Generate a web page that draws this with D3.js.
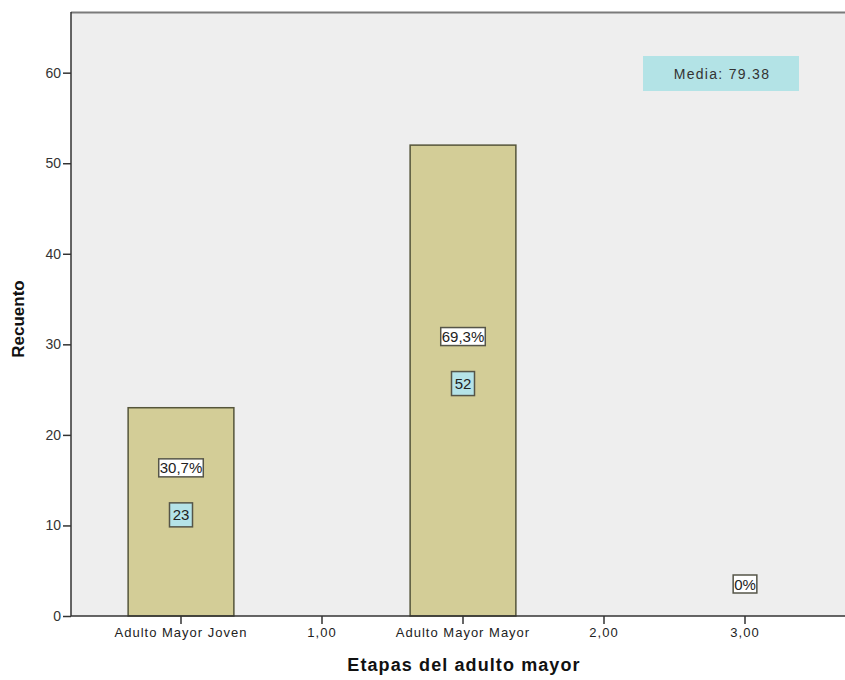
<!DOCTYPE html>
<html><head><meta charset="utf-8">
<script src="https://cdn.jsdelivr.net/npm/d3@7"></script>
<style>body{margin:0;background:#fff}svg{display:block}text{font-family:Arial,"Liberation Sans",sans-serif}</style>
</head><body>
<script>
const categories = ["Adulto Mayor Joven", "1,00", "Adulto Mayor Mayor", "2,00", "3,00"];
const counts = [23, null, 52, null, 0];
const pctLabels = ["30,7%", null, "69,3%", null, "0%"];
const countLabels = ["23", null, "52", null, null];
const yTicks = [0, 10, 20, 30, 40, 50, 60];
const meanLabel = "Media: 79.38";

const W = 845, H = 680;
const m = {left: 71, top: 12, right: 0, bottom: 64};
const svg = d3.select("body").append("svg").attr("width", W).attr("height", H);

const x = d3.scaleBand().domain(categories).range([m.left + 39.5, m.left + 39.5 + 141 * 5]).paddingInner(0.25).paddingOuter(0.125);
const y = d3.scaleLinear().domain([0, 66.7]).range([H - m.bottom, m.top]);

svg.append("rect").attr("x", m.left).attr("y", m.top).attr("width", W - m.left).attr("height", y(0) - m.top).attr("fill", "#eeeeee");
svg.append("line").attr("x1", m.left).attr("x2", W).attr("y1", m.top + 0.5).attr("y2", m.top + 0.5).attr("stroke", "#7a7a7a").attr("stroke-width", 2);

const data = categories.map((c, i) => ({c, v: counts[i], p: pctLabels[i], n: countLabels[i]}));

svg.selectAll("rect.bar").data(data.filter(d => d.v)).enter().append("rect").attr("class", "bar")
  .attr("x", d => x(d.c)).attr("y", d => y(d.v)).attr("width", x.bandwidth()).attr("height", d => y(0) - y(d.v))
  .attr("fill", "#d3cd97").attr("stroke", "#55553a").attr("stroke-width", 1.5);

// axes
const yAxis = svg.append("g").attr("transform", `translate(${m.left},0)`)
  .call(d3.axisLeft(y).tickValues(yTicks).tickSize(8).tickSizeOuter(0).tickFormat(d3.format("d")));
yAxis.select(".domain").attr("stroke", "#333").attr("stroke-width", 1.5).attr("d", `M0,${m.top}V${y(0)}`);
yAxis.selectAll("text").attr("font-size", 14).attr("fill", "#333").attr("x", -10);
yAxis.selectAll(".tick line").attr("stroke", "#333").attr("stroke-width", 1.5);

const xAxis = svg.append("g").attr("transform", `translate(0,${y(0)})`)
  .call(d3.axisBottom(x).tickSize(8).tickSizeOuter(0));
xAxis.select(".domain").attr("stroke", "#333").attr("stroke-width", 1.5).attr("d", `M${m.left},0H${W}`);
xAxis.selectAll("text").attr("font-size", 13).attr("letter-spacing", 1).attr("fill", "#222").attr("y", 12);
xAxis.selectAll(".tick line").attr("stroke", "#333").attr("stroke-width", 1.5);

// labels
function box(cx, cy, txt, fill) {
  const g = svg.append("g");
  const t = g.append("text").attr("x", cx).attr("y", cy).attr("text-anchor", "middle").attr("dominant-baseline", "central")
    .attr("font-size", 15).attr("fill", "#222").text(txt);
  const bb = t.node().getBBox();
  g.insert("rect", "text").attr("x", bb.x - 1).attr("y", cy - 9).attr("width", bb.width + 2).attr("height", 18)
    .attr("fill", fill).attr("stroke", "#555548").attr("stroke-width", 1.5);
}
data.forEach(d => {
  const cx = x(d.c) + x.bandwidth() / 2;
  if (d.n !== null) {
    const mid = (y(0) + y(d.v)) / 2 + 3;
    box(cx, mid - 47, d.p, "#ffffff");
    const g = svg.append("g");
    g.append("rect").attr("x", cx - 11.5).attr("y", mid - 12).attr("width", 23).attr("height", 24)
      .attr("fill", "#b5e3e8").attr("stroke", "#555548").attr("stroke-width", 1.5);
    g.append("text").attr("x", cx).attr("y", mid).attr("text-anchor", "middle").attr("dominant-baseline", "central")
      .attr("font-size", 15).attr("fill", "#222").text(d.n);
  } else if (d.p !== null) {
    box(cx, y(0) - 32, d.p, "#ffffff");
  }
});

// mean box
svg.append("rect").attr("x", 643).attr("y", 56).attr("width", 156).attr("height", 35).attr("fill", "#b3e3e6");
svg.append("text").attr("x", 722).attr("y", 74).attr("text-anchor", "middle").attr("dominant-baseline", "central")
  .attr("font-size", 14).attr("letter-spacing", 1.3).attr("fill", "#333").text(meanLabel);

// titles
svg.append("text").attr("x", 464).attr("y", 671).attr("text-anchor", "middle").attr("font-size", 18).attr("letter-spacing", 1.1)
  .attr("font-weight", "bold").attr("fill", "#111").text("Etapas del adulto mayor");
svg.append("text").attr("transform", `translate(24,319) rotate(-90)`).attr("text-anchor", "middle").attr("font-size", 17)
  .attr("font-weight", "bold").attr("fill", "#111").text("Recuento");
</script>
</body></html>
